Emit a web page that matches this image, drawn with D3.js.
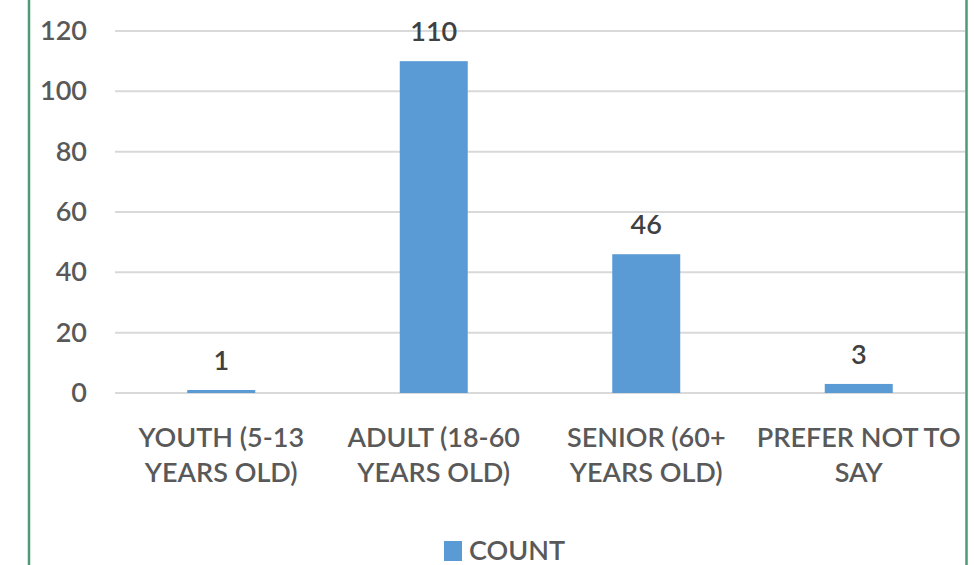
<!DOCTYPE html>
<html>
<head>
<meta charset="utf-8">
<script src="https://cdn.jsdelivr.net/npm/d3@7/dist/d3.min.js"></script>
<style>
  html, body { margin: 0; padding: 0; background: #fff; }
  svg { display: block; }
</style>
</head>
<body>
<svg id="chart" width="979" height="565"></svg>
<script>
// Age groups of respondents
const categories = [
  "YOUTH (5-13 YEARS OLD)",
  "ADULT (18-60 YEARS OLD)",
  "SENIOR (60+ YEARS OLD)",
  "PREFER NOT TO SAY"
];
const categoryLines = [
  ["YOUTH (5-13", "YEARS OLD)"],
  ["ADULT (18-60", "YEARS OLD)"],
  ["SENIOR (60+", "YEARS OLD)"],
  ["PREFER NOT TO", "SAY"]
];
const counts = [1, 110, 46, 3];
const yTicks = [0, 20, 40, 60, 80, 100, 120];
const seriesName = "COUNT";

const W = 979, H = 565;
const FONT = "Lato, 'Liberation Sans', sans-serif";
const FS = 27;
const FW = 600;
const svg = d3.select("#chart");

const margin = { left: 115, right: 14, top: 31, bottom: 172 };
const x = d3.scaleBand()
  .domain(categories)
  .range([margin.left, W - margin.right])
  .paddingInner(0.68)
  .paddingOuter(0.34);
const y = d3.scaleLinear()
  .domain([0, 120])
  .range([H - margin.bottom, margin.top]);

// frame border (green)
svg.append("line").attr("x1", 29).attr("x2", 29).attr("y1", 0).attr("y2", H)
  .attr("stroke", "#4e9a78").attr("stroke-width", 2.5);
svg.append("line").attr("x1", 966.5).attr("x2", 966.5).attr("y1", 0).attr("y2", H)
  .attr("stroke", "#4e9a78").attr("stroke-width", 2.5);

// gridlines
svg.append("g")
  .selectAll("line")
  .data(yTicks)
  .join("line")
  .attr("x1", margin.left)
  .attr("x2", W - margin.right)
  .attr("y1", d => y(d))
  .attr("y2", d => y(d))
  .attr("stroke", "#d9d9d9")
  .attr("stroke-width", 2);

// y axis labels
const yAxis = d3.axisLeft(y).tickValues(yTicks).tickSize(0).tickPadding(0);
const gy = svg.append("g").attr("transform", "translate(87,0)").call(yAxis);
gy.select(".domain").remove();
gy.selectAll("text")
  .attr("font-family", FONT)
  .attr("font-size", FS)
  .attr("font-weight", FW)
  .attr("fill", "#595959");

// bars
svg.append("g")
  .selectAll("rect")
  .data(categories)
  .join("rect")
  .attr("x", d => x(d))
  .attr("width", x.bandwidth())
  .attr("y", (d, i) => y(counts[i]))
  .attr("height", (d, i) => y(0) - y(counts[i]))
  .attr("fill", "#5b9bd5");

// value labels
svg.append("g")
  .selectAll("text")
  .data(categories)
  .join("text")
  .attr("x", d => x(d) + x.bandwidth() / 2)
  .attr("y", (d, i) => y(counts[i]) - 20)
  .attr("text-anchor", "middle")
  .attr("font-family", FONT)
  .attr("font-size", FS)
  .attr("font-weight", FW)
  .attr("fill", "#404040")
  .text((d, i) => counts[i]);

// category labels
const xAxis = d3.axisBottom(x).tickSize(0).tickFormat(() => "");
const gx = svg.append("g").attr("transform", `translate(0,${y(0)})`).call(xAxis);
gx.select(".domain").remove();
gx.selectAll(".tick").each(function(d, i) {
  const t = d3.select(this).select("text")
    .attr("font-family", FONT)
    .attr("font-size", FS)
    .attr("font-weight", FW)
    .attr("fill", "#595959")
    .attr("y", 0)
    .attr("dy", null);
  categoryLines[i].forEach((line, k) => {
    t.append("tspan").attr("x", 0).attr("y", 54 + k * 35).text(line);
  });
});

// legend
const legend = svg.append("g").attr("transform", "translate(444,541)");
legend.append("rect").attr("width", 18).attr("height", 20).attr("fill", "#5b9bd5");
legend.append("text")
  .attr("x", 25).attr("y", 19)
  .attr("font-family", FONT)
  .attr("font-size", FS)
  .attr("font-weight", FW)
  .attr("fill", "#595959")
  .text(seriesName);
</script>
</body>
</html>
